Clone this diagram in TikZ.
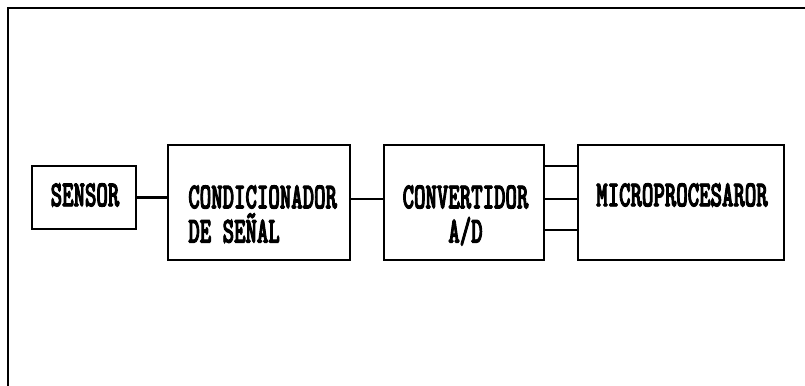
\documentclass[tikz,border=0pt]{standalone}
\usepackage{fontspec}
\newfontfamily\dotfont[FakeStretch=0.59,FakeBold=2.5]{lmmonolt10-bold.otf}
\usetikzlibrary{positioning}

\begin{document}
\begin{tikzpicture}[x=1cm,y=1cm,
  blk/.style={draw,line width=1.6pt,inner sep=0pt,minimum height=2.3cm},
  txt/.style={font=\dotfont\fontsize{21}{19.5}\selectfont,inner sep=0pt},
  wire/.style={line width=1.6pt}]
  \useasboundingbox (0,0) rectangle (16.1,7.72);
  % frame (top and left edge only)
  \draw[line width=1.5pt] (0.16,0) -- (0.16,7.56) -- (16.1,7.56);
  % blocks
  \node[blk,minimum width=2.08cm,minimum height=1.26cm] (sensor) at (1.68,3.77) {};
  \node[blk,minimum width=3.64cm] (cond) at (5.18,3.67) {};
  \node[blk,minimum width=3.2cm] (conv) at (9.28,3.67) {};
  \node[blk,minimum width=4.12cm] (micro) at (13.62,3.67) {};
  % texts
  \node[txt] (sensortxt) at (1.70,3.82) {SENSOR};
  \node[txt,align=left,anchor=north west] (condtxt) at (3.76,4.02) {CONDICIONADOR\\DE SEÑAL};
  \node[txt,align=center,anchor=north] (convtxt) at (9.31,4.02) {CONVERTIDOR\\A/D};
  \node[txt] (microtxt) at (13.64,3.82) {MICROPROCESAROR};
  % wires
  \draw[wire] (sensor.east) -- (sensor.east -| cond.west);
  \draw[wire] ([yshift=0.07cm]cond.east) -- ([yshift=0.07cm]conv.west);
  \foreach \dy in {0.73,0.07,-0.55}
    \draw[wire] ([yshift=\dy cm]conv.east) -- ([yshift=\dy cm]micro.west);
\end{tikzpicture}
\end{document}
